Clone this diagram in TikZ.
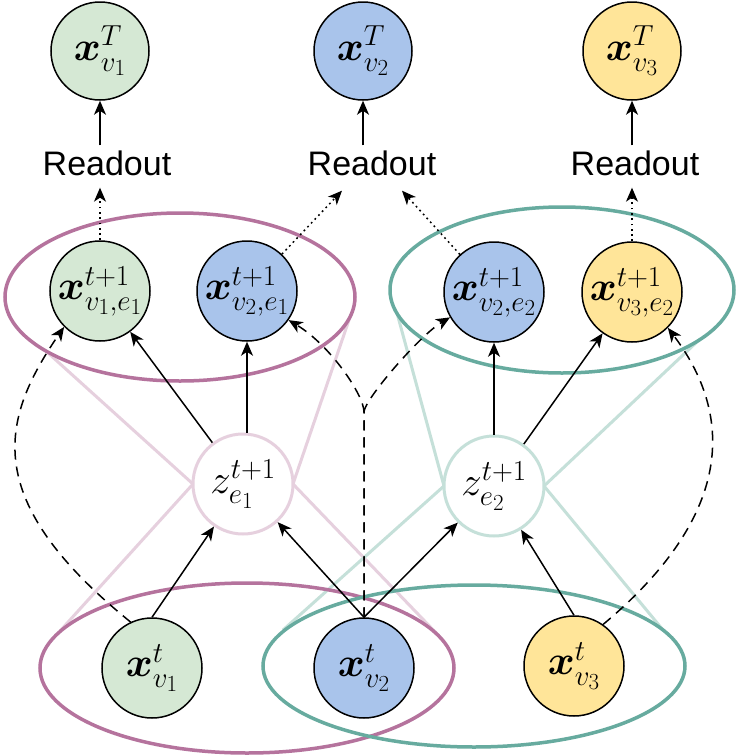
\RequirePackage{fix-cm}
\documentclass[tikz,border=0pt]{standalone}
\usepackage{fontspec}
\usepackage{amsmath}
\newfontfamily\rofont{Liberation Sans}
\usetikzlibrary{arrows.meta}
\definecolor{cgreen}{HTML}{D5E8D4}
\definecolor{cblue}{HTML}{A9C4EB}
\definecolor{cyellow}{HTML}{FFE599}
\definecolor{cpurple}{HTML}{B5739D}
\definecolor{cteal}{HTML}{67AB9F}
\definecolor{lpink}{HTML}{E6D0DE}
\definecolor{lteal}{HTML}{C5E0D9}
\DeclareMathSizes{41}{41}{29}{23}
\newcommand\nodefont{\fontsize{41}{46}\selectfont}
\begin{document}
\begin{tikzpicture}[x=1pt,y=-1pt,
  vnode/.style={circle,draw=black,line width=1.5pt,minimum size=100pt,inner sep=0pt,font=\nodefont},
  znode/.style={circle,line width=3pt,fill=white,minimum size=100pt,inner sep=0pt,font=\nodefont},
  rolabel/.style={inner sep=0pt,font=\rofont\fontsize{34}{40}\selectfont},
  arr/.style={line width=1.5pt,-{Stealth[length=14pt,width=12pt,inset=4pt]}},
  dasharr/.style={arr,dash pattern=on 10pt off 7pt},
  dotarr/.style={arr,dash pattern=on 1.8pt off 3.5pt},
  edgeell/.style={line width=3.5pt},
  light/.style={line width=3pt}]
\useasboundingbox[fill=white] (0,0) rectangle (738,756);

% coordinates for the light hyperedge lines
\coordinate (pa) at (47,352);
\coordinate (pb) at (60,631);
\coordinate (pc) at (350,317);
\coordinate (pd) at (440,637);
\coordinate (ta) at (397,313);
\coordinate (tb) at (283,630);
\coordinate (tc) at (700,339);
\coordinate (td) at (663,630);

% z nodes positions (needed for light lines)
\coordinate (z1c) at (243,484);
\coordinate (z2c) at (494,486);

\draw[light,lpink] (pa) -- ([xshift=-50pt]z1c) -- (pb);
\draw[light,lpink] (pc) -- ([xshift=50pt]z1c) -- (pd);
\draw[light,lteal] (ta) -- ([xshift=-50pt]z2c) -- (tb);
\draw[light,lteal] (tc) -- ([xshift=50pt]z2c) -- (td);

% hyperedge ellipses
\draw[edgeell,cpurple] (180,297) ellipse [x radius=175, y radius=84];
\draw[edgeell,cteal] (562,290) ellipse [x radius=172, y radius=83];
\draw[edgeell,cpurple] (247,668) ellipse [x radius=207, y radius=85];
\draw[edgeell,cteal] (474,666) ellipse [x radius=211, y radius=81];

% top nodes
\node[vnode,fill=cgreen,minimum size=98pt] (t1) at (100,51) {$\boldsymbol{x}^{T}_{v_1}$};
\node[vnode,fill=cblue,minimum size=98pt] (t2) at (363,51) {$\boldsymbol{x}^{T}_{v_2}$};
\node[vnode,fill=cyellow,minimum size=98pt] (t3) at (632,51) {$\boldsymbol{x}^{T}_{v_3}$};

% readout labels
\node[rolabel] (ro1) at (107,163) {Readout};
\node[rolabel] (ro2) at (372,163) {Readout};
\node[rolabel] (ro3) at (635,163) {Readout};

% middle nodes
\node[vnode,fill=cgreen] (m11) at (100,291) {$\boldsymbol{x}^{t+1}_{v_1,e_1}$};
\node[vnode,fill=cblue] (m21) at (247,291) {$\boldsymbol{x}^{t+1}_{v_2,e_1}$};
\node[vnode,fill=cblue] (m22) at (494,292) {$\boldsymbol{x}^{t+1}_{v_2,e_2}$};
\node[vnode,fill=cyellow] (m32) at (632,292) {$\boldsymbol{x}^{t+1}_{v_3,e_2}$};

% hyperedge nodes
\node[znode,draw=lpink] (z1) at (z1c) {$z^{t+1}_{e_1}$};
\node[znode,draw=lteal] (z2) at (z2c) {$z^{t+1}_{e_2}$};

% bottom nodes
\node[vnode,fill=cgreen] (v1) at (152,668) {$\boldsymbol{x}^{t}_{v_1}$};
\node[vnode,fill=cblue] (v2) at (364,668) {$\boldsymbol{x}^{t}_{v_2}$};
\node[vnode,fill=cyellow] (v3) at (574,666) {$\boldsymbol{x}^{t}_{v_3}$};

% readout arrows
\draw[arr] ([yshift=5pt]ro1.north -| t1) -- (t1);
\draw[arr] ([yshift=5pt]ro2.north -| t2) -- (t2);
\draw[arr] ([yshift=5pt]ro3.north -| t3) -- (t3);
\draw[dotarr] (m11) -- ([yshift=-12pt]ro1.south -| m11);
\draw[dotarr] (m21) -- ([xshift=-30pt,yshift=-15pt]ro2.south);
\draw[dotarr] (m22) -- ([xshift=30pt,yshift=-15pt]ro2.south);
\draw[dotarr] (m32) -- ([yshift=-12pt]ro3.south -| m32);

% solid arrows bottom -> z
\draw[arr] (v1.north) -- (z1);
\draw[arr] (v2.north) -- (z1);
\draw[arr] (v2.north) -- (z2);
\draw[arr] (v3.north) -- (z2);

% z -> middle
\draw[arr] (z1) -- (m11);
\draw[arr] (m21 |- z1.north) -- (m21);
\draw[arr] (z2) -- (m22);
\draw[arr] (z2) -- (m32);

% dashed skip arrows
\coordinate (bend) at (364,412);
\draw[dasharr] (v1.115) .. controls (-20,500) and (0,420) .. (m11.225);
\draw[dasharr] (v3.55) .. controls (740,510) and (730,410) .. (m32.-45);
\draw[dasharr] (v2.north) -- (bend) .. controls (364,395) and (330,345) .. (m21.-35);
\draw[dasharr] (v2.north) -- (bend) .. controls (364,400) and (420,335) .. (m22.210);
\end{tikzpicture}
\end{document}
